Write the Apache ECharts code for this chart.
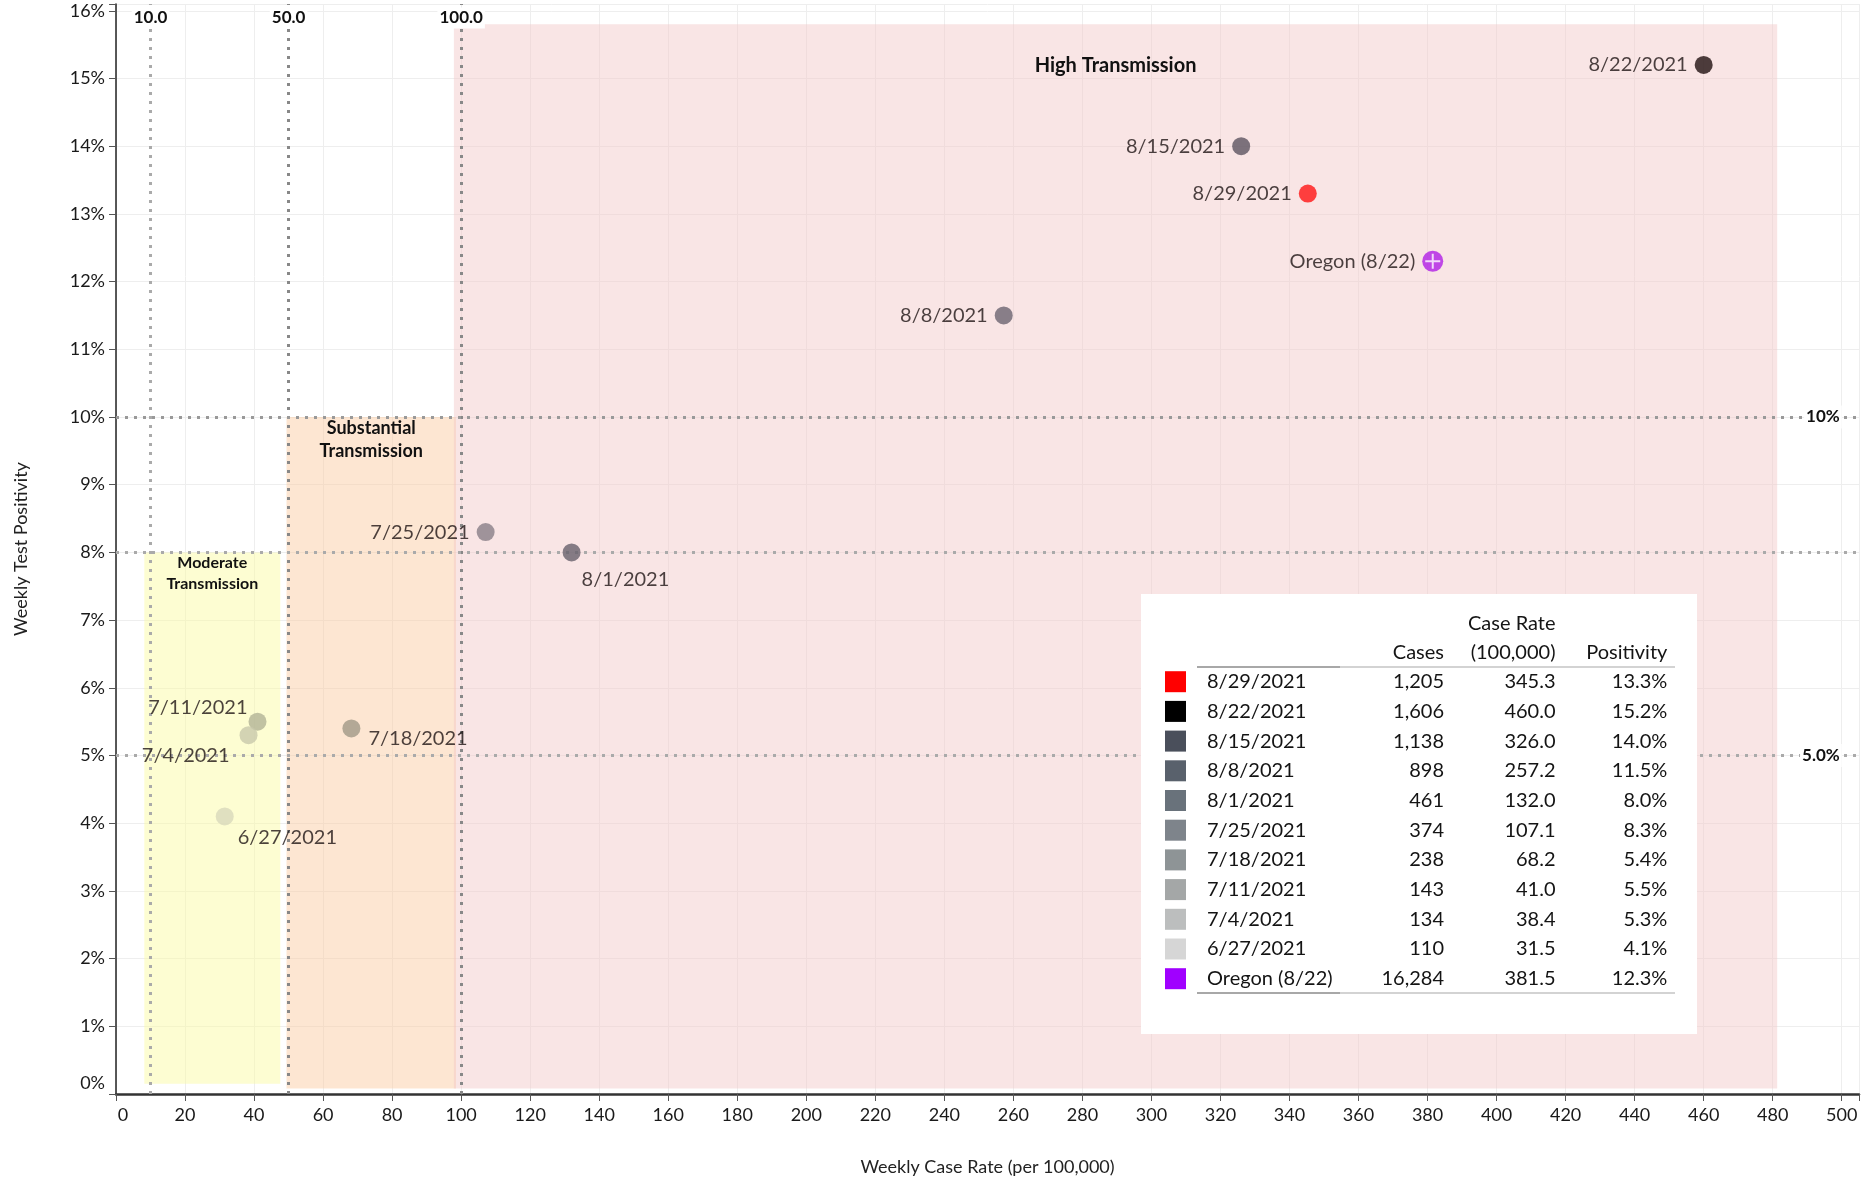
<!DOCTYPE html>
<html><head><meta charset="utf-8">
<script src="https://cdn.jsdelivr.net/npm/echarts@6/dist/echarts.min.js"></script>
<style>html,body{margin:0;padding:0;background:#fff}#c{width:1862px;height:1181px}</style>
</head><body><div id="c"></div>
<script>
// ---- data ----
const dates = ['8/29/2021','8/22/2021','8/15/2021','8/8/2021','8/1/2021','7/25/2021','7/18/2021','7/11/2021','7/4/2021','6/27/2021','Oregon (8/22)'];
const cases = [1205,1606,1138,898,461,374,238,143,134,110,16284];
const caseRate = [345.3,460.0,326.0,257.2,132.0,107.1,68.2,41.0,38.4,31.5,381.5];
const positivity = [13.3,15.2,14.0,11.5,8.0,8.3,5.4,5.5,5.3,4.1,12.3];
const swatchColors = ['#ff0000','#000000','#4a4f5b','#59616c','#69727b','#7e848b','#8e9496','#a4a7a7','#bcbebe','#d6d6d6','#a000ff'];
const markerColors = ['#ff1414','#201010','#5c5460','#6c6470','#68606c','#887e87','#a09887','#b2b396','#c8c8ab','#d8d8bc','#b01ee6'];
const zoneNames = ['Moderate\nTransmission','Substantial\nTransmission','High Transmission'];
const zoneX0 = [8.2, 49.4, 97.9];
const zoneX1 = [47.6, 98.5, 481.3];
const zoneY0 = [0.15, 0.08, 0.08];
const zoneY1 = [8, 10, 15.8];
const vLines = [10, 50, 100];
const vLineLabels = ['10.0','50.0','100.0'];
const hLines = [10, 8, 5];
const hLineLabels = ['10%','','5.0%'];
const tableHeaders = ['Cases','(100,000)','Positivity'];

// ---- styles ----
const FONT = 'Lato, "Open Sans", sans-serif';
const labelSide = ['left','left','left','left','right','left','right','left','left','right','left'];
const labelDist = [7,7,7,7,1,7,8,1,10,4,7];
const labelDy = [0,0,0,0,27,0,10,-14,20,21,0];
const zoneColors = ['#fafa9c','#fbc79b','#f2c6c6'];
const zoneFont = [16,18,20];
const zoneLH = [21,23,24];
const zoneDist = [0,0,29];
const vLineColors = ['#aaaaaa','#888888','#888888'];
const hLineColors = ['#999999','#aaaaaa','#aaaaaa'];

const chart = echarts.init(document.getElementById('c'), null, {renderer:'canvas'});

const pointData = dates.map((d,i)=>({
  value:[caseRate[i], positivity[i]],
  name:d,
  symbolSize: i===10?21:18,
  itemStyle:{color:markerColors[i]},
  label:{show:true, formatter:d, position:labelSide[i], distance:labelDist[i], offset:[0,labelDy[i]],
         fontSize:20, fontFamily:FONT, color:'#1e1414'}
}));

const markAreaData = zoneNames.map((n,i)=>[
  {coord:[zoneX0[i], zoneY1[i]], itemStyle:{color:zoneColors[i], opacity:0.45},
   label:{show:true, formatter:n, position:'insideTop', distance:zoneDist[i], fontSize:zoneFont[i], lineHeight:zoneLH[i],
          fontWeight:'bold', fontFamily:FONT, color:'#111', align:'center'}},
  {coord:[zoneX1[i], zoneY0[i]]}
]);

const markLineData = [];
vLines.forEach((v,i)=>markLineData.push([
  {coord:[v,0], lineStyle:{color:vLineColors[i]}},{coord:[v,16.1]}]));
hLines.forEach((v,i)=>markLineData.push([
  {coord:[0,v], lineStyle:{color:hLineColors[i]}},{coord:[505,v]}]));

const option = {
  animation:false,
  backgroundColor:'#fff',
  grid:{left:116, right:0, top:4, bottom:83},
  xAxis:{
    type:'value', min:0, max:505, interval:20,
    name:'Weekly Case Rate (per 100,000)', nameLocation:'middle', nameGap:64,
    nameTextStyle:{fontSize:18, fontFamily:FONT, color:'#222'},
    axisLine:{show:true, lineStyle:{color:'#333', width:2.5}},
    axisTick:{show:true, length:7, lineStyle:{color:'#555'}},
    axisLabel:{fontSize:18, fontFamily:FONT, color:'#1a1a1a', margin:12,
      formatter:v=> (v%20===0 ? (v===0?'{z|0}':String(v)) : ''),
      rich:{z:{fontSize:18, fontFamily:FONT, color:'#1a1a1a', padding:[0,0,0,14]}}},
    splitLine:{show:true, lineStyle:{color:'#eeeeee', width:1}}
  },
  yAxis:{
    type:'value', min:0, max:16.1, interval:1,
    name:'Weekly Test Positivity', nameLocation:'middle', nameGap:86,
    nameTextStyle:{fontSize:18, fontFamily:FONT, color:'#222'},
    axisLine:{show:true, lineStyle:{color:'#222', width:1.5}},
    axisTick:{show:true, length:7, lineStyle:{color:'#555'}},
    axisLabel:{fontSize:18, fontFamily:FONT, color:'#1a1a1a', margin:11,
      formatter:v=> (Math.abs(v-Math.round(v))<1e-6 ? (Math.round(v)===0?'{z|0%}':Math.round(v)+'%') : ''),
      rich:{z:{fontSize:18, fontFamily:FONT, color:'#1a1a1a', padding:[0,0,22,0]}}},
    splitLine:{show:true, lineStyle:{color:'#eeeeee', width:1}}
  },
  series:[
    {type:'scatter', data:[], z:1, silent:true,
     markArea:{silent:true, data:markAreaData}},
    {type:'scatter', data:[], z:2, silent:true,
     markLine:{silent:true, symbol:'none', label:{show:false},
       lineStyle:{type:[3,6], width:3}, data:markLineData}},
    {type:'scatter', z:5, data:pointData, symbol:'circle'},
    {type:'scatter', z:6, silent:true,
     data:[{value:[caseRate[10], positivity[10]]}],
     symbol:'path://M-1.2,-9 L1.2,-9 L1.2,-1.2 L9,-1.2 L9,1.2 L1.2,1.2 L1.2,9 L-1.2,9 L-1.2,1.2 L-9,1.2 L-9,-1.2 L-1.2,-1.2 Z',
     symbolSize:15, itemStyle:{color:'#ffffff'}, label:{show:false}}
  ]
};
chart.setOption(option);

// ---- annotations & table via graphic ----
const g = [];
vLines.forEach((v,i)=>{
  const p = chart.convertToPixel({gridIndex:0},[v,16]);
  g.push({type:'text', x:p[0], y:18, z:10, style:{text:vLineLabels[i], fontSize:17, fontWeight:'bold', fontFamily:FONT,
    fill:'#111', align:'center', verticalAlign:'middle', backgroundColor:'#fff', padding:[2,2]}});
});
hLines.forEach((v,i)=>{
  if(!hLineLabels[i]) return;
  const p = chart.convertToPixel({gridIndex:0},[500,v]);
  g.push({type:'text', x:p[0], y:p[1], z:10, style:{text:hLineLabels[i], fontSize:17, fontWeight:'bold', fontFamily:FONT,
    fill:'#111', align:'right', verticalAlign:'middle', backgroundColor:'#fff', padding:[3,2]}});
});

// table
const TX = 1141, TY = 594, TW = 556, TH = 440;
const rowY0 = 681.7, rowStep = 29.7;
const colRight = [1444, 1555.5, 1667.4];
const dateLeft = 1207, swX = 1165, swS = 21;
const tStyle = {fontSize:20, fontFamily:FONT, fill:'#141414', verticalAlign:'middle'};
g.push({type:'rect', z:20, shape:{x:TX, y:TY, width:TW, height:TH}, style:{fill:'#ffffff'}});
g.push({type:'text', z:21, x:colRight[1], y:624, style:Object.assign({text:'Case Rate', align:'right'}, tStyle)});
tableHeaders.forEach((h,i)=>g.push({type:'text', z:21, x:colRight[i], y:653, style:Object.assign({text:h, align:'right'}, tStyle)}));
[667, 993].forEach(ly=>{
  g.push({type:'line', z:21, shape:{x1:1197, y1:ly, x2:1675, y2:ly}, style:{stroke:'#c4c4c4', lineWidth:1.5}});
  g.push({type:'line', z:22, shape:{x1:1197, y1:ly, x2:1340, y2:ly}, style:{stroke:'#a8a8a8', lineWidth:2}});
});
dates.forEach((d,i)=>{
  const y = rowY0 + i*rowStep;
  g.push({type:'rect', z:21, shape:{x:swX, y:y-swS/2, width:swS, height:swS}, style:{fill:swatchColors[i]}});
  g.push({type:'text', z:21, x:dateLeft, y:y, style:Object.assign({text:d, align:'left'}, tStyle)});
  g.push({type:'text', z:21, x:colRight[0], y:y, style:Object.assign({text:cases[i].toLocaleString('en-US'), align:'right'}, tStyle)});
  g.push({type:'text', z:21, x:colRight[1], y:y, style:Object.assign({text:caseRate[i].toFixed(1), align:'right'}, tStyle)});
  g.push({type:'text', z:21, x:colRight[2], y:y, style:Object.assign({text:positivity[i].toFixed(1)+'%', align:'right'}, tStyle)});
});
chart.setOption({graphic:g});
</script>
</body></html>
